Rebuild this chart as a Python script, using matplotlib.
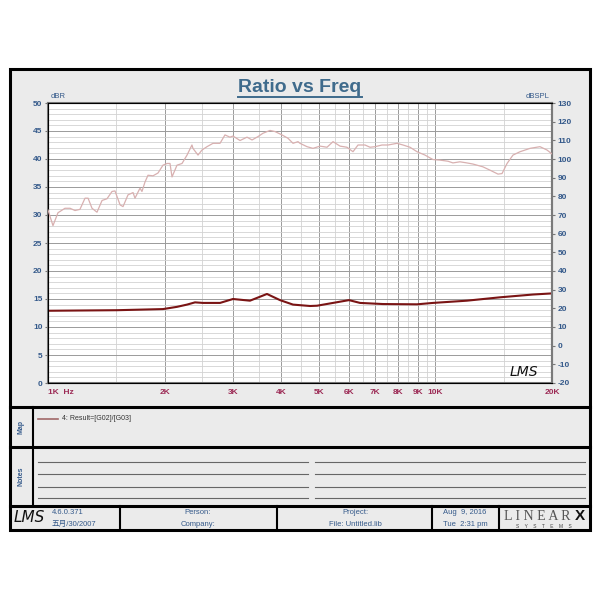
import matplotlib
matplotlib.use("Agg")
import matplotlib.pyplot as plt
from matplotlib.patches import Rectangle
from matplotlib.ticker import FixedLocator, NullFormatter

plt.rcParams["font.family"] = ["Liberation Sans", "Noto Sans CJK SC", "DejaVu Sans"]
plt.rcParams["axes.unicode_minus"] = False

# Result=[G02]/[G03], left axis (dBR)
ratio_freq = [1000, 1507, 1981, 2153, 2285, 2396, 2512, 2780, 3003, 3322, 3675, 3971,
              4290, 4747, 4948, 5984, 6390, 7324, 8966, 9858, 12060, 14680, 17860, 20000]
ratio_db = [12.9, 13.0, 13.2, 13.6, 14.0, 14.4, 14.3, 14.3, 15.0, 14.7, 15.9, 14.8,
            14.0, 13.75, 13.8, 14.8, 14.3, 14.1, 14.05, 14.3, 14.7, 15.3, 15.8, 16.0]

# pink response curve, right axis (dBSPL)
spl_freq = [1000, 1030, 1061, 1106, 1140, 1174, 1209, 1246, 1269, 1299, 1338, 1379,
            1420, 1463, 1489, 1535, 1562, 1609, 1658, 1677, 1728, 1748, 1780, 1812,
            1867, 1923, 1981, 2029, 2065, 2090, 2153, 2218, 2285, 2353, 2367, 2439,
            2497, 2573, 2666, 2780, 2863, 2949, 3003, 3131, 3264, 3363, 3484, 3589,
            3742, 3855, 4018, 4164, 4290, 4419, 4472, 4662, 4831, 5036, 5251, 5442,
            5674, 5912, 6128, 6313, 6582, 6781, 6986, 7282, 7546, 7960, 8250, 8600,
            8966, 9401, 9858, 10280, 10780, 11100, 11570, 12060, 12500, 13270, 13840,
            14510, 14860, 15310, 15860, 16540, 17550, 18620, 19420, 20000]
spl_db = [72.7, 64.3, 71.2, 73.6, 73.6, 72.4, 73.0, 79.0, 79.0, 73.6, 71.5, 77.8,
          78.7, 82.6, 82.9, 75.4, 74.5, 80.8, 82.0, 79.0, 84.4, 82.6, 87.7, 91.3,
          91.0, 92.5, 96.7, 97.6, 97.6, 90.4, 96.7, 97.6, 102.1, 107.5, 105.7, 102.1,
          104.8, 106.6, 108.4, 108.4, 112.9, 111.7, 112.3, 109.9, 111.7, 110.2, 112.0, 113.8,
          115.3, 114.7, 112.9, 111.1, 108.4, 109.3, 108.4, 106.6, 105.7, 106.9, 106.3, 109.3,
          106.9, 106.3, 103.9, 107.5, 107.5, 106.3, 106.6, 107.5, 107.5, 108.4, 107.5, 106.3,
          103.9, 102.1, 99.7, 99.4, 98.8, 97.9, 98.5, 97.9, 97.3, 95.8, 94.0,
          91.9, 92.2, 97.6, 102.1, 103.9, 105.7, 106.6, 104.8, 102.7]

x_ticks = [1000, 2000, 3000, 4000, 5000, 6000, 7000, 8000, 9000, 10000, 20000]
x_labels = ["1K  Hz", "2K", "3K", "4K", "5K", "6K", "7K", "8K", "9K", "10K", "20K"]
x_minor = [1500, 2500, 3500, 4500, 5500, 6500, 7500, 8500, 9500, 15000]

blue = "#34598a"
maroon = "#9c2a55"

fig = plt.figure(figsize=(6, 6), dpi=100)

# page furniture drawn in pixel coordinates
bg = fig.add_axes([0, 0, 1, 1])
bg.set_xlim(0, 600)
bg.set_ylim(600, 0)
bg.axis("off")
bg.add_patch(Rectangle((10, 69), 580, 461, facecolor="#ebebeb", edgecolor="black", lw=2.2))
for y in [407, 447, 506]:
    bg.plot([10, 590], [y, y], color="black", lw=2.2)
bg.plot([33, 33], [407, 506], color="black", lw=1.5)
for x in [120, 277, 432, 499]:
    bg.plot([x, x], [506, 530], color="black", lw=1.5)
for y in [462, 474, 487, 498]:
    bg.plot([38, 308], [y, y], color="#666666", lw=0.8)
    bg.plot([315, 585], [y, y], color="#666666", lw=0.8)

title = bg.text(300, 88, "Ratio vs Freq", ha="center", va="center", fontsize=14,
                fontweight="bold", color="#3f6b8c")
fig.canvas.draw()
bb = title.get_window_extent().transformed(bg.transData.inverted())
bg.plot([bb.x0, bb.x1], [97, 97], color="#3f6b8c", lw=1.4)

bg.text(21, 427, "Map", rotation=90, ha="center", va="center", fontsize=5, color=blue, fontweight="bold")
bg.text(21, 476, "Notes", rotation=90, ha="center", va="center", fontsize=5, color=blue, fontweight="bold")
bg.plot([38, 58], [419, 419], color="#a06868", lw=1.2)
bg.text(62, 419, "4: Result=[G02]/[G03]", ha="left", va="center", fontsize=5, color="#333333")

bg.text(29, 518, "LMS", ha="center", va="center", fontsize=11, style="italic",
        family="DejaVu Sans", fontweight="light", color="#111111")
bg.text(52, 512, "4.6.0.371", ha="left", va="center", fontsize=5.5, color=blue)
bg.text(52, 524, "五月/30/2007", ha="left", va="center", fontsize=5.5, color=blue)
bg.text(198, 512, "Person:", ha="center", va="center", fontsize=5.5, color=blue)
bg.text(198, 524, "Company:", ha="center", va="center", fontsize=5.5, color=blue)
bg.text(355, 512, "Project:", ha="center", va="center", fontsize=5.5, color=blue)
bg.text(355, 524, "File: Untitled.lib", ha="center", va="center", fontsize=5.5, color=blue)
bg.text(465, 512, "Aug  9, 2016", ha="center", va="center", fontsize=5.5, color=blue)
bg.text(465, 524, "Tue  2:31 pm", ha="center", va="center", fontsize=5.5, color=blue)
bg.text(537, 516, "L I N E A R", ha="center", va="center", fontsize=10,
        family="Liberation Serif", color="#555555")
bg.text(580, 516, "X", ha="center", va="center", fontsize=11, family="Liberation Sans",
        fontweight="bold", color="#111111")
bg.text(544, 527, "S    Y    S    T    E    M    S", ha="center", va="center", fontsize=3.5,
        color="#444444")

# chart
ax = fig.add_axes([48 / 600, 217 / 600, 504 / 600, 280 / 600])
ax.set_facecolor("white")
ax.set_xscale("log")
ax.set_xlim(1000, 20000)
ax.set_ylim(0, 50)
ax.xaxis.set_major_locator(FixedLocator(x_ticks))
ax.xaxis.set_minor_locator(FixedLocator(x_minor))
ax.xaxis.set_minor_formatter(NullFormatter())
ax.set_xticklabels(x_labels)
ax.set_yticks(range(0, 51, 5))
ax.set_yticks(range(0, 51, 1), minor=True)
ax.grid(which="major", color="#9a9a9a", lw=0.7)
ax.grid(which="minor", color="#d2d2d2", lw=0.6)
ax.set_axisbelow(True)
ax.tick_params(axis="x", which="both", length=0, labelsize=6, labelcolor=maroon, pad=4)
ax.tick_params(axis="y", which="major", length=2, labelsize=6, labelcolor=blue, pad=2, color="#777777")
ax.tick_params(axis="y", which="minor", length=0)
first = ax.get_xticklabels()[0]
first.set_ha("left")
for lab in ax.get_xticklabels() + ax.get_yticklabels():
    lab.set_fontweight("bold")
for s in ax.spines.values():
    s.set_color("#7a7a7a")
    s.set_linewidth(1.5)

ax.plot(ratio_freq, ratio_db, color="#7a1414", lw=1.5, zorder=3)

ax2 = ax.twinx()
ax2.set_ylim(-20, 130)
ax2.set_yticks(range(-20, 131, 10))
ax2.tick_params(axis="y", length=2, labelsize=6, labelcolor=blue, pad=2, color="#777777")
for lab in ax2.get_yticklabels():
    lab.set_fontweight("bold")
ax2.spines["right"].set_color("#7a7a7a")
ax2.spines["right"].set_linewidth(1.5)
ax2.plot(spl_freq, spl_db, color="#d8b0b0", lw=0.9, zorder=3)

ax.text(0.005, 1.01, "dBR", transform=ax.transAxes, ha="left", va="bottom", fontsize=5.5, color=blue)
ax.text(0.995, 1.01, "dBSPL", transform=ax.transAxes, ha="right", va="bottom", fontsize=5.5, color=blue)
ax.text(0.945, 0.04, "LMS", transform=ax.transAxes, ha="center", va="center", fontsize=10,
        style="italic", family="DejaVu Sans", fontweight="light", color="#111111")

fig.savefig("out.png", dpi=100)
